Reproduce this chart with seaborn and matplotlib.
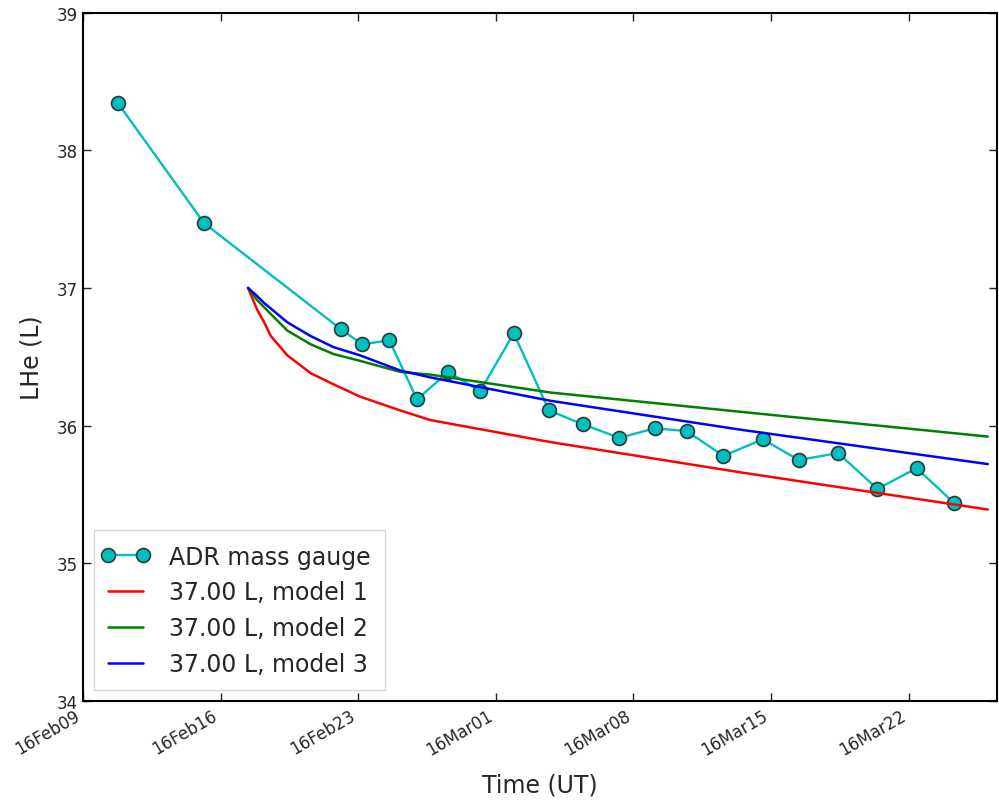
import matplotlib
matplotlib.use("Agg")
import matplotlib.pyplot as plt
import matplotlib.dates as mdates
from matplotlib.legend_handler import HandlerLine2D
from matplotlib.lines import Line2D
import seaborn as sns
import pandas as pd

# ---- data ----
gauge_times = ["2016-02-10 19:00", "2016-02-15 04:00", "2016-02-22 03:00", "2016-02-23 05:00",
               "2016-02-24 14:00", "2016-02-26 00:00", "2016-02-27 14:00", "2016-02-29 05:00",
               "2016-03-01 22:00", "2016-03-03 17:00", "2016-03-05 10:00", "2016-03-07 07:00",
               "2016-03-09 02:00", "2016-03-10 17:00", "2016-03-12 14:00", "2016-03-14 14:00",
               "2016-03-16 10:00", "2016-03-18 10:00", "2016-03-20 10:00", "2016-03-22 10:00",
               "2016-03-24 07:00"]
gauge_lhe = [38.34, 37.47, 36.70, 36.59, 36.62, 36.19, 36.39, 36.25, 36.67, 36.11, 36.01,
             35.91, 35.98, 35.96, 35.78, 35.90, 35.75, 35.80, 35.54, 35.69, 35.44]

model_times = ["2016-02-17 09:36", "2016-02-17 20:53", "2016-02-18 05:17", "2016-02-18 13:26",
               "2016-02-19 09:36", "2016-02-20 14:10", "2016-02-21 17:46", "2016-02-23 02:24",
               "2016-02-25 03:22", "2016-02-26 16:05", "2016-03-03 18:43", "2016-03-13 10:48",
               "2016-03-26 00:43"]
model1_lhe = [37.00, 36.84, 36.75, 36.65, 36.51, 36.38, 36.30, 36.21, 36.11, 36.04, 35.88, 35.66, 35.39]
model2_lhe = [37.00, 36.91, 36.86, 36.81, 36.69, 36.59, 36.52, 36.47, 36.39, 36.37, 36.24, 36.10, 35.92]
model3_lhe = [37.00, 36.94, 36.89, 36.85, 36.75, 36.65, 36.57, 36.51, 36.40, 36.35, 36.18, 35.97, 35.72]

labels = ["ADR mass gauge", "37.00 L, model 1", "37.00 L, model 2", "37.00 L, model 3"]

gauge_df = pd.DataFrame({"time": pd.to_datetime(gauge_times), "lhe": gauge_lhe})
model_df = pd.DataFrame({"time": pd.to_datetime(model_times), "m1": model1_lhe,
                         "m2": model2_lhe, "m3": model3_lhe})

sns.set_style("ticks")
plt.rcParams["font.family"] = ["DejaVu Sans"]
plt.rcParams["xtick.direction"] = "in"
plt.rcParams["ytick.direction"] = "in"
plt.rcParams["xtick.top"] = True
plt.rcParams["ytick.right"] = True

fig, ax = plt.subplots(figsize=(9.99, 8.03), dpi=100)

sns.lineplot(data=gauge_df, x="time", y="lhe", ax=ax, color="c", lw=1.7,
             marker="o", markersize=10, markerfacecolor="c", markeredgecolor="#2a3a3a",
             markeredgewidth=1.2, label=labels[0])
sns.lineplot(data=model_df, x="time", y="m1", ax=ax, color="r", lw=1.8, label=labels[1])
sns.lineplot(data=model_df, x="time", y="m2", ax=ax, color="g", lw=1.8, label=labels[2])
sns.lineplot(data=model_df, x="time", y="m3", ax=ax, color="b", lw=1.8, label=labels[3])

ax.set_xlim(pd.Timestamp("2016-02-09"), pd.Timestamp("2016-03-26 12:00"))
ax.set_ylim(34, 39)
ax.set_yticks([34, 35, 36, 37, 38, 39])
ax.xaxis.set_major_locator(mdates.WeekdayLocator(byweekday=mdates.TU))
ax.xaxis.set_major_formatter(mdates.DateFormatter("%y%b%d"))
ax.tick_params(axis="both", which="major", labelsize=12, length=6, width=1, color="#222222")
for lbl in ax.get_xticklabels():
    lbl.set_rotation(30)
    lbl.set_ha("right")
for s in ax.spines.values():
    s.set_linewidth(1.5)
    s.set_color("black")

ax.set_xlabel("Time (UT)", fontsize=17, labelpad=10)
ax.set_ylabel("LHe (L)", fontsize=17, labelpad=10)

handles, _ = ax.get_legend_handles_labels()
leg = ax.legend(handles, labels, loc="lower left", fontsize=17, handlelength=1.5,
                handletextpad=1.1, labelspacing=0.5, borderpad=0.6, borderaxespad=0.45,
                fancybox=False, frameon=True, numpoints=2,
                handler_map={Line2D: HandlerLine2D(marker_pad=0, numpoints=2)})
leg.get_frame().set_edgecolor("#cccccc")
leg.get_frame().set_linewidth(1.0)

fig.subplots_adjust(left=0.083, right=0.998, top=0.983, bottom=0.126)
fig.savefig("out.png", dpi=100, facecolor="white")
